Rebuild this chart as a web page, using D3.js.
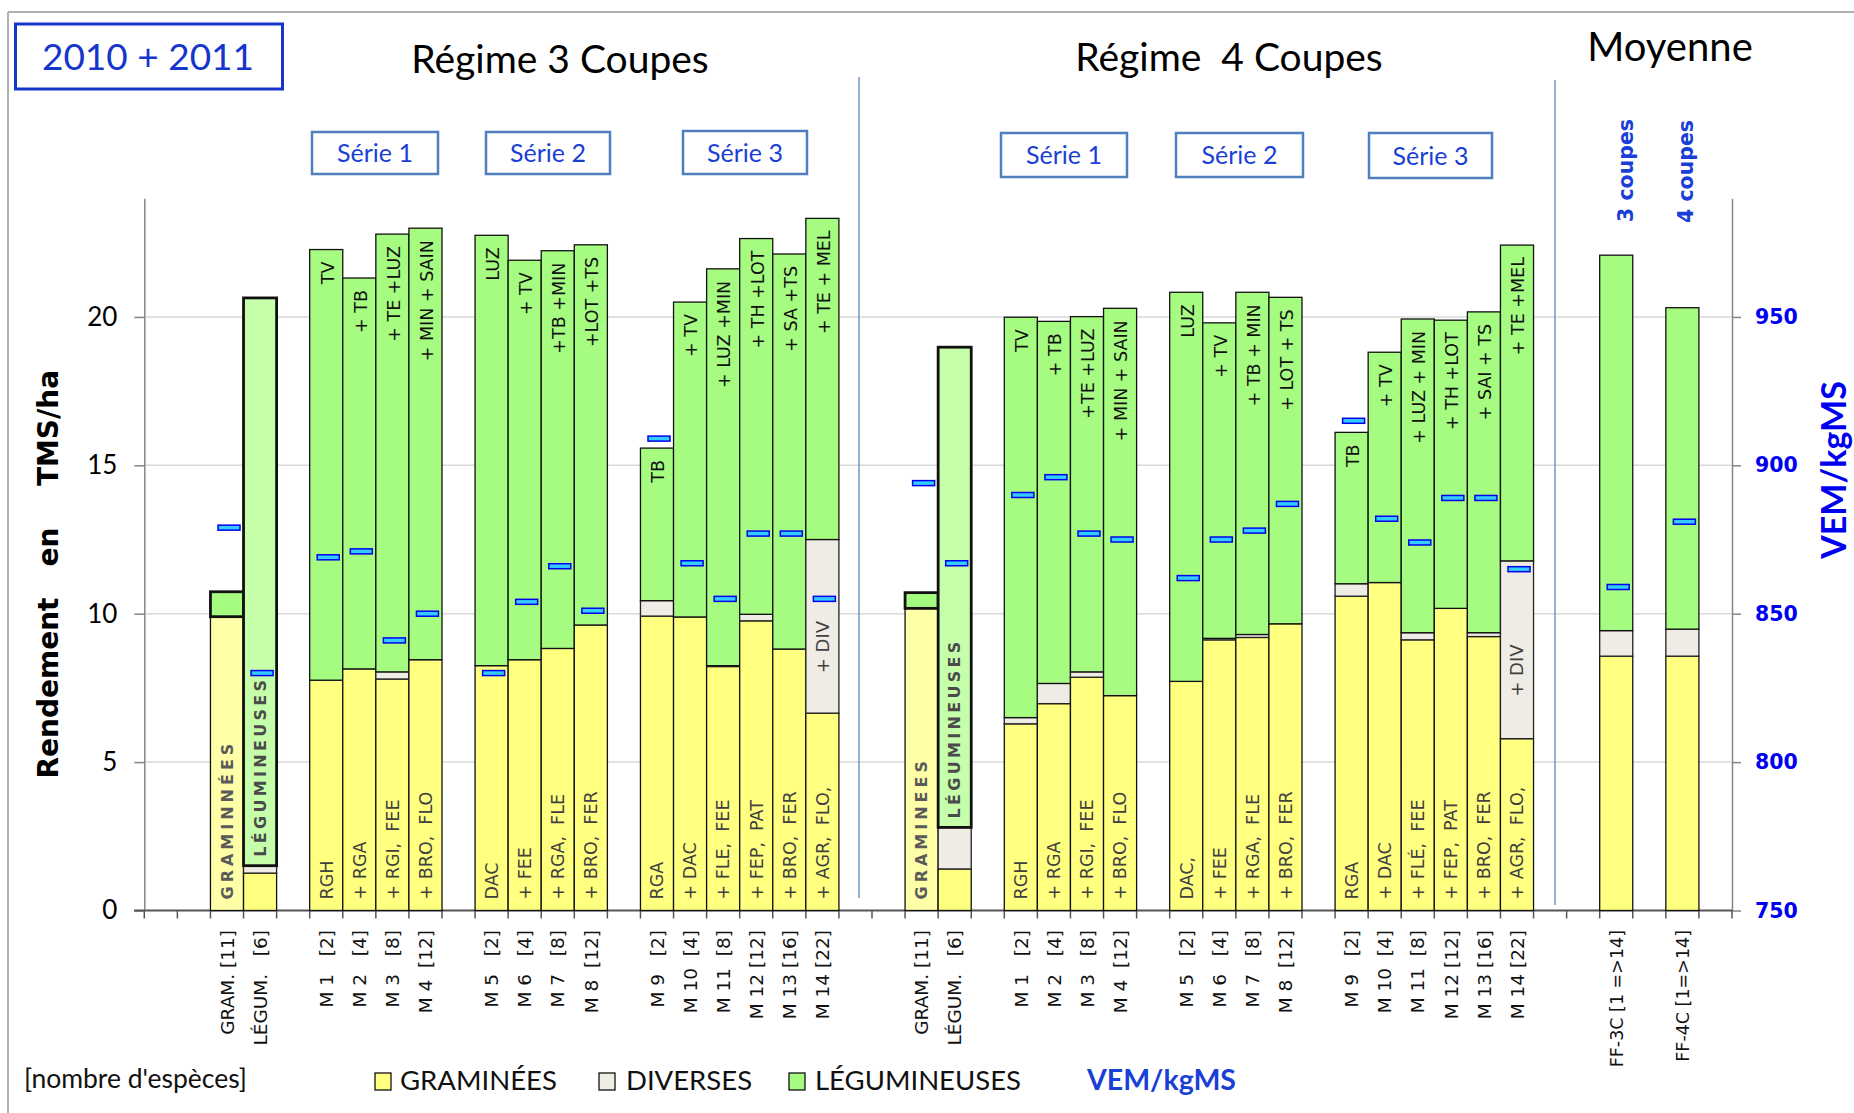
<!DOCTYPE html>
<html><head><meta charset="utf-8">
<script src="https://cdn.jsdelivr.net/npm/d3@7"></script>
<style>body{margin:0;background:#fff}svg{display:block}text{white-space:pre}</style>
</head><body>
<svg id="c" width="1854" height="1113"></svg>
<script>
// ---------- DATA ----------
const categories = [
  "", "",
  "GRAM. [11]", "LÉGUM.   [6]",
  "",
  "M 1   [2]", "M 2   [4]", "M 3   [8]", "M 4  [12]",
  "",
  "M 5   [2]", "M 6   [4]", "M 7   [8]", "M 8  [12]",
  "",
  "M 9   [2]", "M 10  [4]", "M 11  [8]", "M 12 [12]", "M 13 [16]", "M 14 [22]",
  "", "",
  "GRAM. [11]", "LÉGUM.   [6]",
  "",
  "M 1   [2]", "M 2   [4]", "M 3   [8]", "M 4  [12]",
  "",
  "M 5   [2]", "M 6   [4]", "M 7   [8]", "M 8  [12]",
  "",
  "M 9   [2]", "M 10  [4]", "M 11  [8]", "M 12 [12]", "M 13 [16]", "M 14 [22]",
  "", "",
  "FF-3C [1 =>14]", "", "FF-4C [1=>14]", ""
];
const graminees = [
  null, null, 9.90, 1.26, null,
  7.76, 8.14, 7.80, 8.45, null,
  8.25, 8.45, 8.83, 9.62, null,
  9.92, 9.89, 8.22, 9.76, 8.81, 6.65,
  null, null, 10.18, 1.40, null,
  6.29, 6.97, 7.86, 7.24, null,
  7.72, 9.12, 9.20, 9.66, null,
  10.59, 11.05, 9.12, 10.18, 9.23, 5.79,
  null, null, 8.57, null, 8.57, null
];
const diverses = [
  null, null, 0.00, 0.25, null,
  0.00, 0.00, 0.24, 0.00, null,
  0.00, 0.00, 0.00, 0.00, null,
  0.52, 0.00, 0.03, 0.22, 0.00, 5.85,
  null, null, 0.00, 1.40, null,
  0.21, 0.68, 0.18, 0.00, null,
  0.00, 0.05, 0.10, 0.00, null,
  0.42, 0.00, 0.24, 0.00, 0.13, 5.99,
  null, null, 0.86, null, 0.91, null
];
const legumineuses = [
  null, null, 0.84, 19.13, null,
  14.51, 13.17, 14.75, 14.54, null,
  14.50, 13.46, 13.40, 12.81, null,
  5.14, 10.61, 13.37, 12.66, 13.31, 10.82,
  null, null, 0.53, 16.18, null,
  13.49, 12.20, 11.97, 13.05, null,
  13.11, 10.63, 11.53, 11.00, null,
  5.10, 7.76, 10.57, 9.71, 10.81, 10.64,
  null, null, 12.65, null, 10.83, null
];
const vemKgMS = [
  null, null, 879, 830, null,
  869, 871, 841, 850, null,
  830, 854, 866, 851, null,
  909, 867, 855, 877, 877, 855,
  null, null, 894, 867, null,
  890, 896, 877, 875, null,
  862, 875, 878, 887, null,
  915, 882, 874, 889, 889, 865,
  null, null, 859, null, 881, null
];
const grassLabels = [
  "", "", "GRAMINNÉES", "", "",
  "RGH", "+ RGA", "+ RGI,  FEE", "+ BRO,  FLO", "",
  "DAC", "+ FEE", "+ RGA,  FLE", "+ BRO,  FER", "",
  "RGA", "+ DAC", "+ FLE,  FEE", "+ FEP,  PAT", "+ BRO,  FER", "+ AGR,  FLO,",
  "", "", "GRAMINEES", "", "",
  "RGH", "+ RGA", "+ RGI,  FEE", "+ BRO,  FLO", "",
  "DAC,", "+ FEE", "+ RGA,  FLE", "+ BRO,  FER", "",
  "RGA", "+ DAC", "+ FLÉ,  FEE", "+ FEP,  PAT", "+ BRO,  FER", "+ AGR,  FLO,",
  "", "", "", "", "", ""
];
const legumeLabels = [
  "", "", "", "LÉGUMINEUSES.", "",
  "TV", "+ TB", "+ TE +LUZ", "+ MIN + SAIN", "",
  "LUZ", "+ TV", "+TB +MIN", "+LOT +TS", "",
  "TB", "+ TV", "+ LUZ +MIN", "+ TH +LOT", "+ SA +TS", "+ TE + MEL",
  "", "", "", "LÉGUMINEUSES", "",
  "TV", "+ TB", "+TE +LUZ", "+ MIN + SAIN", "",
  "LUZ", "+ TV", "+ TB + MIN", "+ LOT + TS", "",
  "TB", "+ TV", "+ LUZ + MIN", "+ TH +LOT", "+ SAI + TS", "+ TE +MEL",
  "", "", "", "", "", ""
];
const diversLabels = categories.map((c, i) => (i === 20 || i === 41) ? "+ DIV" : "");
const leftTicks = [0, 5, 10, 15, 20];
const rightTicks = [750, 800, 850, 900, 950];
const regimeTitles = ["Régime 3 Coupes", "Régime  4 Coupes", "Moyenne"];
const serieTitles = ["Série 1", "Série 2", "Série 3", "Série 1", "Série 2", "Série 3"];
const moyenneLabels = ["3 coupes", "4 coupes"];
const legendItems = ["GRAMINÉES", "DIVERSES", "LÉGUMINEUSES"];

// ---------- CHART ----------
const svg = d3.select("#c");
const C = {yellow: "#ffff80", yellowLight: "#ffffa8", div: "#eeece4", green: "#a6fc80", greenLight: "#c6ffaa"};
const x = d3.scaleBand().domain(d3.range(categories.length)).range([144.3, 1732]).padding(0);
const y = d3.scaleLinear().domain([0, 24]).range([910.5, 198.2]);
const yR = d3.scaleLinear().domain([750, 990]).range([910.5, 198.2]);
const bw = x.bandwidth();
const isGram = i => categories[i].startsWith("GRAM");
const isLeg = i => categories[i].startsWith("LÉGUM");
const dv = "'DejaVu Sans', Verdana, sans-serif";
const ff = "Lato, 'Open Sans', sans-serif";

// frame
svg.append("line").attr("x1", 8).attr("x2", 1854).attr("y1", 12).attr("y2", 12).attr("stroke", "#b0b0b0").attr("stroke-width", 2);
svg.append("line").attr("x1", 8).attr("x2", 8).attr("y1", 12).attr("y2", 1113).attr("stroke", "#b0b0b0").attr("stroke-width", 2);

// gridlines
svg.append("g").selectAll("line").data(leftTicks.filter(v => v > 0)).join("line")
  .attr("x1", 144.3).attr("x2", 1732).attr("y1", d => y(d)).attr("y2", d => y(d))
  .attr("stroke", "#d9d9d9").attr("stroke-width", 1.5);

// dividers
svg.append("line").attr("x1", 859).attr("x2", 859).attr("y1", 77).attr("y2", 898).attr("stroke", "#6e97cc").attr("stroke-width", 1.5);
svg.append("line").attr("x1", 1555).attr("x2", 1555).attr("y1", 80).attr("y2", 905).attr("stroke", "#6e97cc").attr("stroke-width", 1.5);

// axes
const gL = svg.append("g").attr("transform", "translate(144.3,0)")
  .call(d3.axisLeft(y).tickValues(leftTicks).tickSize(10).tickSizeOuter(0).tickPadding(17).tickFormat(d3.format("d")));
gL.selectAll("path,line").attr("stroke", "#868686").attr("stroke-width", 1.5);
gL.selectAll("text").attr("font-family", ff).attr("font-size", 26).attr("fill", "#000");

const gR = svg.append("g").attr("transform", "translate(1732,0)")
  .call(d3.axisRight(yR).tickValues(rightTicks).tickSize(9).tickSizeOuter(0).tickPadding(14));
gR.selectAll("path,line").attr("stroke", "#868686").attr("stroke-width", 1.5);
gR.selectAll("text").attr("font-family", dv).attr("font-weight", "bold").attr("font-size", 20.5).attr("fill", "#0000f0");

// x axis line + boundary ticks
svg.append("line").attr("x1", 134).attr("x2", 1732).attr("y1", y(0)).attr("y2", y(0)).attr("stroke", "#555").attr("stroke-width", 2);
svg.append("g").selectAll("line").data(d3.range(categories.length + 1)).join("line")
  .attr("x1", i => i < categories.length ? x(i) : 1732).attr("x2", i => i < categories.length ? x(i) : 1732)
  .attr("y1", y(0)).attr("y2", y(0) + 8).attr("stroke", "#555").attr("stroke-width", 1.5);

// bars
const idx = d3.range(categories.length).filter(i => graminees[i] !== null);
const bars = svg.append("g");
idx.forEach(i => {
  const g = graminees[i], d = diverses[i], l = legumineuses[i];
  const x0 = x(i);
  bars.append("rect").attr("x", x0).attr("width", bw).attr("y", y(g)).attr("height", y(0) - y(g))
    .attr("fill", isGram(i) ? C.yellowLight : C.yellow).attr("stroke", "#111").attr("stroke-width", 1.3);
  if (d > 0) bars.append("rect").attr("x", x0).attr("width", bw).attr("y", y(g + d)).attr("height", y(g) - y(g + d))
    .attr("fill", C.div).attr("stroke", "#222").attr("stroke-width", 1.3);
  bars.append("rect").attr("x", x0).attr("width", bw).attr("y", y(g + d + l)).attr("height", y(g + d) - y(g + d + l))
    .attr("fill", isLeg(i) ? C.greenLight : C.green).attr("stroke", "#111")
    .attr("stroke-width", (isGram(i) || isLeg(i)) ? 2.8 : 1.3);
});

// in-bar labels
const lab = svg.append("g").attr("font-family", dv).attr("font-size", 17);
idx.forEach(i => {
  const cx = x(i) + bw / 2;
  const g = graminees[i], d = diverses[i], l = legumineuses[i];
  if (grassLabels[i]) {
    const spaced = isGram(i);
    lab.append("text").attr("transform", `translate(${cx},${y(0) - 11}) rotate(-90)`).attr("dy", "0.36em")
      .attr("text-anchor", "start").attr("fill", spaced ? "#5a5a5a" : "#404040")
      .attr("font-weight", spaced ? 600 : "normal").attr("font-size", spaced ? 16 : 17.5)
      .attr("letter-spacing", spaced ? 4 : 0).text(grassLabels[i]);
  }
  if (legumeLabels[i]) {
    if (isLeg(i)) {
      lab.append("text").attr("transform", `translate(${cx},${y(g + d) - 9}) rotate(-90)`).attr("dy", "0.36em")
        .attr("text-anchor", "start").attr("fill", "#4a4a4a").attr("font-weight", 600).attr("font-size", 16)
        .attr("letter-spacing", 3.3).text(legumeLabels[i]);
    } else {
      lab.append("text").attr("transform", `translate(${cx + 1},${y(g + d + l) + 12}) rotate(-90)`).attr("dy", "0.36em")
        .attr("text-anchor", "end").attr("fill", "#111").attr("font-size", 17.5).text(legumeLabels[i]);
    }
  }
  if (diversLabels[i]) {
    lab.append("text").attr("transform", `translate(${cx},${y(g + d / 2 - 0.7)}) rotate(-90)`).attr("dy", "0.36em")
      .attr("text-anchor", "middle").attr("fill", "#404040").attr("font-size", 18).text(diversLabels[i]);
  }
});

// VEM markers
svg.append("g").selectAll("rect").data(idx).join("rect")
  .attr("x", i => x(i) + bw / 2 - 9).attr("width", 22)
  .attr("y", i => yR(vemKgMS[i]) - 2.5).attr("height", 5)
  .attr("fill", "#33ccff").attr("stroke", "#0000ee").attr("stroke-width", 1.5);

// category labels
svg.append("g").selectAll("text").data(d3.range(categories.length).filter(i => categories[i])).join("text")
  .attr("transform", i => `translate(${x(i) + bw / 2},930) rotate(-90)`).attr("dy", "0.36em")
  .attr("text-anchor", "end").attr("font-family", dv).attr("font-size", i => categories[i].startsWith("FF") ? 17.5 : 18.5)
  .attr("fill", "#111").text(i => categories[i]);

// axis titles
const tL = svg.append("g").attr("font-family", dv).attr("font-weight", "bold").attr("font-size", 28);
[["Rendement", 688], ["en", 547], ["TMS/ha", 428]].forEach(([t, cy]) =>
  tL.append("text").attr("transform", `translate(48,${cy}) rotate(-90)`).attr("dy", "0.36em").attr("text-anchor", "middle").text(t));
svg.append("text").attr("transform", "translate(1834,470) rotate(-90)").attr("dy", "0.36em").attr("text-anchor", "middle")
  .attr("font-family", ff).attr("font-weight", "bold").attr("font-size", 34).attr("fill", "#0000f0").text("VEM/kgMS");

// titles
svg.append("rect").attr("x", 15.5).attr("y", 24).attr("width", 267).attr("height", 65).attr("fill", "none").attr("stroke", "#1535cc").attr("stroke-width", 3);
svg.append("text").attr("x", 148).attr("y", 70).attr("text-anchor", "middle").attr("font-family", ff).attr("font-size", 37).attr("fill", "#1535cc").text("2010 + 2011");
[[560, 73, 39], [1229, 71, 39], [1670, 61, 40]].forEach(([cx, by, fs], k) =>
  svg.append("text").attr("x", cx).attr("y", by).attr("text-anchor", "middle").attr("font-family", ff).attr("font-size", fs).attr("fill", "#000").text(regimeTitles[k]));
const serieBoxes = [[312, 132, 126, 42], [486, 132, 124, 42], [683, 131, 124, 43], [1001, 133, 126, 44], [1176, 133, 127, 44], [1369, 133, 123, 45]];
serieBoxes.forEach(([bx, by, w, h], k) => {
  svg.append("rect").attr("x", bx).attr("y", by).attr("width", w).attr("height", h).attr("fill", "#fff").attr("stroke", "#4f7fbf").attr("stroke-width", 2.5);
  svg.append("text").attr("x", bx + w / 2).attr("y", by + h / 2).attr("dy", "0.36em").attr("text-anchor", "middle").attr("font-family", ff).attr("font-size", 25).attr("fill", "#1a3fd6").text(serieTitles[k]);
});
[[1626, 222], [1686, 223]].forEach(([cx, by], k) =>
  svg.append("text").attr("transform", `translate(${cx},${by}) rotate(-90)`).attr("dy", "0.36em").attr("text-anchor", "start")
    .attr("font-family", dv).attr("font-weight", "bold").attr("font-size", 20.5).attr("fill", "#1a3fd6").text(moyenneLabels[k]));

// legend
svg.append("text").attr("x", 24).attr("y", 1088).attr("font-family", ff).attr("font-size", 26.5).attr("fill", "#111").text("[nombre d'espèces]");
const legFill = [C.yellow, C.div, C.green];
[[375, 400], [599, 626], [789, 815]].forEach(([sx, tx], k) => {
  svg.append("rect").attr("x", sx).attr("y", 1073).attr("width", 16).attr("height", 17).attr("fill", legFill[k]).attr("stroke", "#111").attr("stroke-width", 1.3);
  svg.append("text").attr("x", tx).attr("y", 1090).attr("font-family", ff).attr("font-size", 27.5).attr("fill", "#111").text(legendItems[k]);
});
svg.append("text").attr("x", 1087).attr("y", 1090).attr("font-family", ff).attr("font-weight", "bold").attr("font-size", 28.5).attr("fill", "#1a3fd6").text("VEM/kgMS");
</script>
</body></html>
